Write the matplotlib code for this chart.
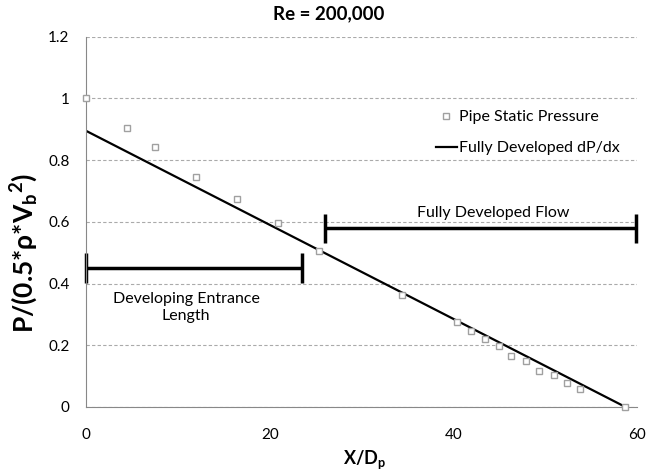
# Pipe static pressure along the pipe, Re = 200,000

import matplotlib.pyplot as plt

plt.rcParams['font.family'] = ['Lato', 'DejaVu Sans']
plt.rcParams['mathtext.fontset'] = 'custom'
plt.rcParams['mathtext.bf'] = 'Lato:bold'
plt.rcParams['mathtext.rm'] = 'Lato'
plt.rcParams['mathtext.default'] = 'bf'

# measured static pressure
x_data = [0, 4.5, 7.5, 11.95, 16.4, 20.9, 25.4, 34.4, 40.4, 41.9, 43.4, 44.9,
          46.3, 47.9, 49.3, 50.9, 52.4, 53.8, 58.7]
p_data = [1.0, 0.905, 0.842, 0.745, 0.673, 0.597, 0.506, 0.363, 0.274, 0.246,
          0.219, 0.197, 0.166, 0.148, 0.117, 0.102, 0.079, 0.059, 0.0]

# fully developed dP/dx line (end points)
x_fit = [0, 58.7]
p_fit = [0.895, 0.0]

# region bars: (x start, x end, y)
dev_bar = (0, 23.45, 0.451)
full_bar = (26.0, 59.9, 0.579)

fig = plt.figure(figsize=(6.57, 4.71), dpi=100)
ax = fig.add_axes([0.131, 0.136, 0.839, 0.786])

ax.plot(x_data, p_data, 's', mfc='white', mec='#a0a0a0', ms=5, mew=1,
        label='Pipe Static Pressure', zorder=3, clip_on=False)
ax.plot(x_fit, p_fit, '-', color='black', lw=1.6, label='Fully Developed dP/dx', zorder=2)

for x0, x1, yb in [dev_bar, full_bar]:
    ax.plot([x0, x1], [yb, yb], color='black', lw=2.5, solid_capstyle='butt', clip_on=False)
    for xc in (x0, x1):
        ax.plot([xc, xc], [yb - 0.048, yb + 0.048], color='black', lw=2.5,
                solid_capstyle='butt', clip_on=False)

ax.text(44.3, 0.628, 'Fully Developed Flow', ha='center', va='center', fontsize=11.5)
ax.text(10.9, 0.322, 'Developing Entrance\nLength', ha='center', va='center',
        fontsize=11.5, linespacing=1.3)

ax.set_xlim(0, 60)
ax.set_ylim(0, 1.2)
ax.set_xticks([0, 20, 40, 60])
ax.set_yticks([0, 0.2, 0.4, 0.6, 0.8, 1.0, 1.2])
ax.set_yticklabels(['0', '0.2', '0.4', '0.6', '0.8', '1', '1.2'])
ax.tick_params(axis='both', labelsize=11, length=0)
ax.tick_params(axis='x', pad=15)
ax.tick_params(axis='y', pad=12)

ax.grid(axis='y', color='#aaaaaa', linestyle=(0, (3, 2)), lw=0.8)
ax.set_axisbelow(True)
for s in ['top', 'right']:
    ax.spines[s].set_visible(False)
for s in ['left', 'bottom']:
    ax.spines[s].set_color('#888888')

fig.text(0.5, 1 - 14 / 471, 'Re = 200,000', ha='center', va='center',
         fontsize=13.5, fontweight='bold')
ax.set_xlabel(r'X/D$_p$', fontsize=13, fontweight='bold')
ax.xaxis.set_label_coords(0.505, -0.112)
ax.set_ylabel(r'P/(0.5*ρ*V$_b$$^2$)', fontsize=19, fontweight='bold')
ax.yaxis.set_label_coords(-0.083, 0.4156)

ax.legend(loc='upper left', bbox_to_anchor=(436 / 657, 1 - 110 / 471),
          bbox_transform=fig.transFigure, frameon=False, borderpad=0,
          borderaxespad=0, fontsize=11.5, handlelength=1.3, handletextpad=0.15,
          labelspacing=1.05)

plt.savefig('out.png', dpi=100)
